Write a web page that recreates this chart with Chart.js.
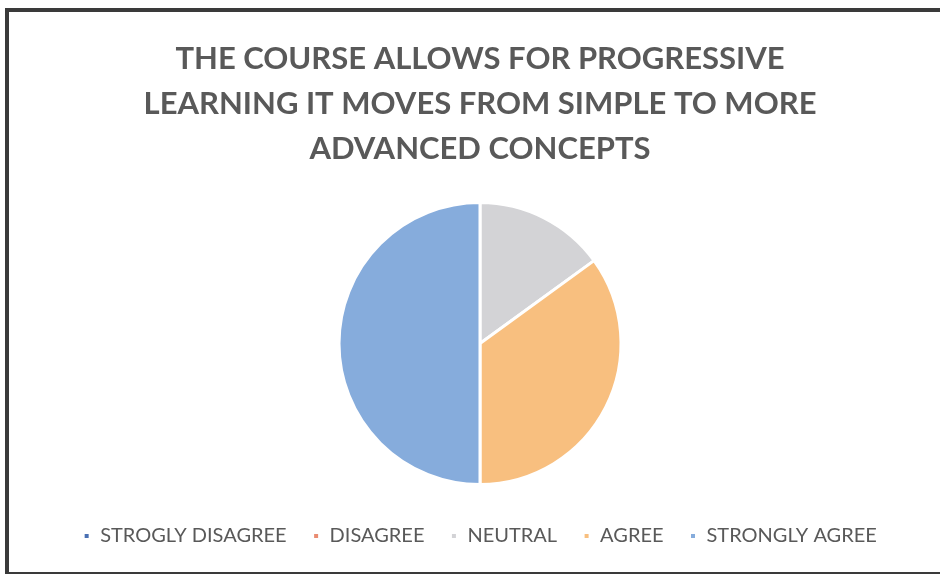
<!DOCTYPE html>
<html>
<head>
<meta charset="utf-8">
<script src="https://cdn.jsdelivr.net/npm/chart.js@4"></script>
<style>
  body { margin: 0; background: #fff; }
  #frame {
    position: absolute; left: 5px; top: 8px; width: 960px; height: 560px;
    border: 4px solid #3a3a3a; border-right: none;
  }
  #wrap { position: absolute; left: 0; top: 0; width: 940px; height: 574px; }
</style>
</head>
<body>
<div id="frame"></div>
<div id="wrap"><canvas id="myChart"></canvas></div>
<script>
const labels = ['STROGLY DISAGREE', 'DISAGREE', 'NEUTRAL', 'AGREE', 'STRONGLY AGREE'];
const responses = [0, 0, 3, 7, 10];
const sliceColors = ['#4a70b3', '#ea8c72', '#d3d3d6', '#f8bf7f', '#86acdc'];
const titleLines = [
    'THE COURSE ALLOWS FOR PROGRESSIVE',
    'LEARNING IT MOVES FROM SIMPLE TO MORE',
    'ADVANCED CONCEPTS'
];

const ctx = document.getElementById('myChart');
const myChart = new Chart(ctx, {
    type: 'pie',
    data: {
        labels: labels,
        datasets: [{
            data: responses,
            backgroundColor: sliceColors,
            borderColor: '#ffffff',
            borderWidth: 3,
            radius: 141
        }]
    },
    options: {
        responsive: true,
        maintainAspectRatio: false,
        animation: false,
        layout: { padding: { left: 20, bottom: 18 } },
        plugins: {
            title: {
                display: true,
                text: titleLines,
                color: '#595959',
                font: { family: 'Lato', size: 31, weight: 'bold', lineHeight: '45px' },
                padding: { top: 36, bottom: 16 }
            },
            legend: {
                position: 'bottom',
                labels: {
                    color: '#595959',
                    font: { family: 'Lato', size: 20 },
                    boxWidth: 7,
                    boxHeight: 7,
                    padding: 26
                }
            },
            tooltip: { enabled: false }
        }
    }
});
</script>
</body>
</html>
